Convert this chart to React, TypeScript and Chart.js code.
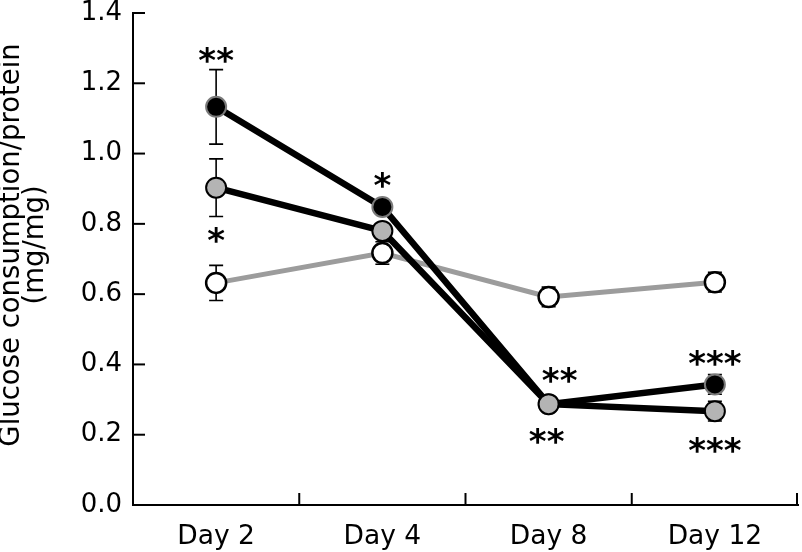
import React, { useEffect, useRef } from 'react';
import { Chart, registerables } from 'chart.js';

Chart.register(...registerables);

const categories = ['Day 2', 'Day 4', 'Day 8', 'Day 12'];

const controlValues = [0.632, 0.717, 0.592, 0.634];
const controlErrors = [0.05, 0.032, 0.028, 0.028];

const grayValues = [0.903, 0.78, 0.287, 0.267];
const grayErrors = [0.082, 0.012, 0.012, 0.028];

const blackValues = [1.133, 0.848, 0.287, 0.343];
const blackErrors = [0.106, 0.012, 0.012, 0.028];

const yTickValues = [0, 0.2, 0.4, 0.6, 0.8, 1.0, 1.2, 1.4];
const yTitleLines = ['Glucose consumption/protein', '(mg/mg)'];

const starLabels = ['**', '*', '*', '**', '**', '***', '***'];
const starCategory = [0, 0, 1, 2, 2, 3, 3];
const starValues = [1.281, 0.768, 0.925, 0.37, 0.196, 0.418, 0.171];
const starShift = [0, 0, 0, 11, -2, 0, 0];

const FONT = 'DejaVu Sans';

const seriesList = [
  { values: blackValues, errors: blackErrors },
  { values: grayValues, errors: grayErrors },
  { values: controlValues, errors: controlErrors },
];

const overlayPlugin = {
  id: 'overlay',
  beforeDatasetsDraw(chart: any) {
    const { ctx, scales } = chart;
    const x = scales.x;
    const y = scales.y;
    ctx.save();
    ctx.strokeStyle = '#000';
    ctx.lineWidth = 1.6;
    const cap = 7;
    seriesList.forEach((s) => {
      s.values.forEach((v, i) => {
        const px = x.getPixelForValue(i);
        const top = y.getPixelForValue(v + s.errors[i]);
        const bot = y.getPixelForValue(v - s.errors[i]);
        ctx.beginPath();
        ctx.moveTo(px, top);
        ctx.lineTo(px, bot);
        ctx.moveTo(px - cap, top);
        ctx.lineTo(px + cap, top);
        ctx.moveTo(px - cap, bot);
        ctx.lineTo(px + cap, bot);
        ctx.stroke();
      });
    });
    ctx.restore();
  },
  afterDraw(chart: any) {
    const { ctx, scales, chartArea } = chart;
    const x = scales.x;
    const y = scales.y;
    ctx.save();
    ctx.strokeStyle = '#000';
    ctx.lineWidth = 2;
    const tl = 12;
    // y ticks (inward)
    yTickValues.forEach((v) => {
      const py = y.getPixelForValue(v);
      ctx.beginPath();
      ctx.moveTo(chartArea.left, py);
      ctx.lineTo(chartArea.left + tl, py);
      ctx.stroke();
    });
    // x ticks at category boundaries (inward)
    const step = x.getPixelForValue(1) - x.getPixelForValue(0);
    categories.forEach((_, i) => {
      const px = Math.min(x.getPixelForValue(i) + step / 2, chartArea.right - 1);
      ctx.beginPath();
      ctx.moveTo(px, chartArea.bottom);
      ctx.lineTo(px, chartArea.bottom - tl);
      ctx.stroke();
    });
    // y axis title (two lines, rotated)
    ctx.fillStyle = '#000';
    ctx.font = `27.5px "${FONT}"`;
    ctx.textAlign = 'center';
    ctx.textBaseline = 'middle';
    const titleCenterY = y.getPixelForValue(0.74);
    yTitleLines.forEach((line, i) => {
      ctx.save();
      ctx.translate(12 + i * 24, titleCenterY);
      ctx.rotate(-Math.PI / 2);
      ctx.fillText(line, 0, 0);
      ctx.restore();
    });
    // significance stars
    ctx.font = `bold 34px "${FONT}"`;
    ctx.textAlign = 'center';
    ctx.textBaseline = 'alphabetic';
    starLabels.forEach((t, i) => {
      const m = ctx.measureText(t);
      const cx = x.getPixelForValue(starCategory[i]) + starShift[i];
      const cy = y.getPixelForValue(starValues[i]);
      const base = cy + (m.actualBoundingBoxAscent - m.actualBoundingBoxDescent) / 2;
      ctx.fillText(t, cx, base);
    });
    ctx.restore();
  },
};

export default function App() {
  const ref = useRef<HTMLCanvasElement>(null);
  useEffect(() => {
    if (!ref.current) return;
    const chart = new Chart(ref.current, {
      type: 'line',
      data: {
        labels: categories,
        datasets: [
          {
            label: 'gray',
            data: grayValues,
            borderColor: '#000',
            borderWidth: 6.5,
            pointBackgroundColor: '#b4b4b4',
            pointBorderColor: '#000',
            pointBorderWidth: 2,
            pointRadius: 10,
            order: 1,
          },
          {
            label: 'black',
            data: blackValues,
            borderColor: '#000',
            borderWidth: 6.5,
            pointBackgroundColor: '#000',
            pointBorderColor: '#7a7a7a',
            pointBorderWidth: 2,
            pointRadius: 10,
            order: 2,
          },
          {
            label: 'control',
            data: controlValues,
            borderColor: '#9c9c9c',
            borderWidth: 5,
            pointBackgroundColor: '#fff',
            pointBorderColor: '#000',
            pointBorderWidth: 2.5,
            pointRadius: 10,
            order: 3,
          },
        ],
      },
      options: {
        animation: false,
        responsive: false,
        layout: { autoPadding: false, padding: { top: 0, right: 4, left: 0, bottom: 0 } },
        plugins: { legend: { display: false }, tooltip: { enabled: false } },
        scales: {
          x: {
            type: 'category',
            offset: true,
            grid: { display: false, drawTicks: false },
            border: { display: true, color: '#000', width: 2 },
            ticks: { color: '#000', font: { family: FONT, size: 26.5 }, padding: 16, maxRotation: 0 },
            afterFit(s: any) {
              s.height = 47;
              s.paddingLeft = 0;
              s.paddingRight = 0;
            },
          },
          y: {
            min: 0,
            max: 1.4,
            grid: { display: false, drawTicks: false },
            border: { display: true, color: '#000', width: 2 },
            ticks: {
              stepSize: 0.2,
              color: '#000',
              font: { family: FONT, size: 26 },
              padding: 11,
              callback: (v: any) => Number(v).toFixed(1),
            },
            title: { display: false },
            afterFit(s: any) {
              s.width = 133;
              s.paddingTop = 13;
              s.paddingBottom = 0;
            },
          },
        },
      },
      plugins: [overlayPlugin],
    });
    return () => chart.destroy();
  }, []);
  return (
    <div style={{ position: 'absolute', left: 0, top: 0, width: 802, height: 552 }}>
      <canvas ref={ref} width={802} height={552} style={{ display: 'block' }} />
    </div>
  );
}
